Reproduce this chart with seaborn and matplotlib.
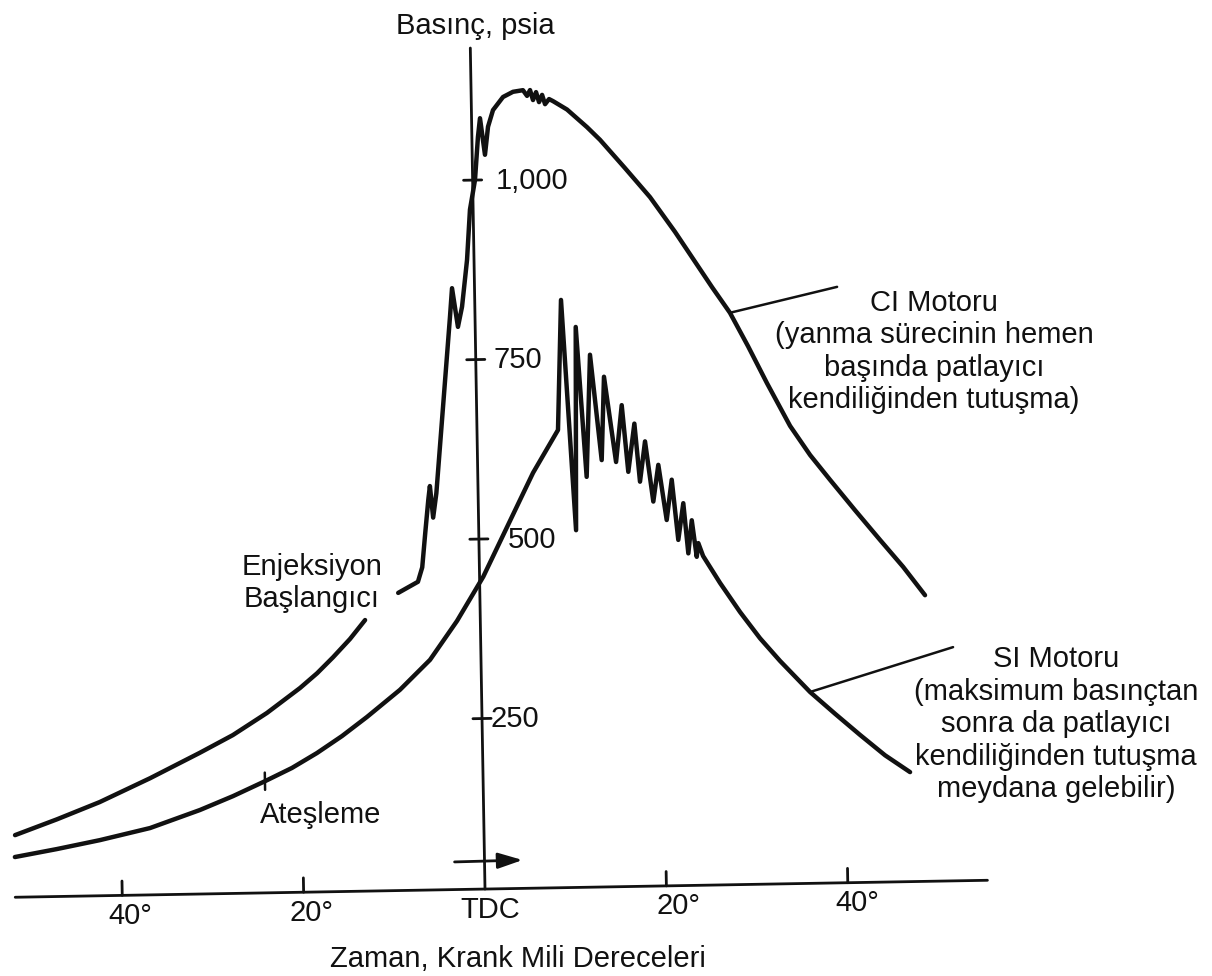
import numpy as np
import pandas as pd
import seaborn as sns
import matplotlib
matplotlib.use("Agg")
import matplotlib.pyplot as plt
from matplotlib.transforms import Affine2D

# ---- data: crank angle (deg, negative = before TDC) and cylinder pressure (psia)
ci_compression_deg = [-51.7, -47.05, -42.3, -36.7, -31.2, -27.5, -23.7, -20.0, -18.1, -16.3,
                      -14.4, -12.7]
ci_compression_psia = [99, 120, 143, 175, 209, 233, 263, 297, 317, 339, 364, 390]

ci_combustion_deg = [-9.0, -6.8, -6.3, -5.9, -5.5, -5.3, -5.0, -4.6, -2.76, -2.48, -1.9, -1.41,
                     -0.77, -0.35, 0.26, 0.67, 0.93, 1.41, 1.80, 2.38, 3.51, 4.62, 5.72, 6.16,
                     6.50, 6.81, 7.16, 7.47, 7.82, 8.13, 8.58, 9.02, 10.54, 12.71, 14.12, 16.82,
                     19.52, 22.21, 24.15, 26.19, 28.11, 30.04, 32.06, 34.52, 36.67, 38.82,
                     41.52, 44.22, 46.71, 49.07]
ci_combustion_psia = [427, 442, 462, 510, 556, 575, 531, 565, 810, 850, 796, 824,
                      889, 959, 1000, 1060, 1086, 1035, 1074, 1097, 1115, 1122, 1124, 1116,
                      1124, 1110, 1121, 1107, 1117, 1104, 1111, 1108, 1096, 1071, 1053, 1013,
                      972, 923, 885, 845, 809, 762, 710, 650, 609, 574,
                      531, 489, 451, 411]

si_deg = [-51.76, -47.11, -42.35, -36.8, -31.27, -27.6, -24.05, -21.05, -18.26, -15.47, -12.68,
          -8.99, -5.62, -2.57, 0.41, 4.61, 6.10, 8.93, 9.51, 10.73, 11.08, 12.0, 12.6, 13.69,
          14.1, 15.27, 16.0, 16.6, 17.36, 17.87, 18.5, 19.3, 19.92, 20.74, 21.37, 21.98, 22.6,
          23.06, 23.5, 23.98, 24.18, 24.68, 26.5, 28.65, 30.8, 32.96, 36.21, 38.93, 41.64,
          44.36, 47.08]
si_psia = [68.5, 78.6, 90, 105.6, 129.5, 148, 168, 185.8, 206, 229, 255,
           292, 333, 386.5, 447.5, 553.5, 591, 650, 831, 510, 793, 584, 754, 607,
           723, 604, 683, 590, 657, 576, 632, 548, 599, 522, 578, 494, 545,
           475, 521, 470, 489, 471, 433, 392, 355, 323, 279, 248, 218,
           189, 165]

ignition_deg = -24.05
ignition_psia = 168
ci_leader_deg, ci_leader_psia = 28.11, 809
si_leader_deg, si_leader_psia = 36.21, 279

x_ticks = [-40, -20, 0, 20, 40]
x_tick_labels = ["40°", "20°", "TDC", "20°", "40°"]
y_ticks = [250, 500, 750, 1000]
y_tick_labels = ["250", "500", "750", "1,000"]

# ---- figure
W, H = 1212, 976
sns.set_theme(style="white")
plt.rcParams["font.family"] = ["Liberation Sans", "DejaVu Sans"]

fig = plt.figure(figsize=(W / 100, H / 100), dpi=100)
fig.patch.set_facecolor("white")
ax = fig.add_axes([0, 0, 1, 1])
ax.axis("off")
ax.set_xlim(-53.47, 80.15)
ax.set_ylim(-108.6, 1250.7)

axis_p = 12.5  # pressure level where the crank-angle axis is drawn
ink = "#111111"

# the drawing sits on a sheet turned slightly anticlockwise
px0, py0 = ax.transData.transform((0, axis_p))
tilt = ax.transData + Affine2D().rotate_deg_around(px0, py0, 1.0)

curve_lw = 3.2
sns.lineplot(x=ci_compression_deg, y=ci_compression_psia, ax=ax, color=ink,
             lw=curve_lw, sort=False, estimator=None, legend=False)
sns.lineplot(x=ci_combustion_deg, y=ci_combustion_psia, ax=ax, color=ink,
             lw=curve_lw, sort=False, estimator=None, legend=False)
sns.lineplot(x=si_deg, y=si_psia, ax=ax, color=ink,
             lw=curve_lw, sort=False, estimator=None, legend=False)
for ln in ax.lines:
    ln.set_transform(tilt)
    ln.set_solid_joinstyle("round")
    ln.set_solid_capstyle("round")

# axes drawn by hand, crossing at TDC
ax.plot([-51.8, 55.4], [axis_p, axis_p], color=ink, lw=2.0, transform=tilt)
ax.plot([0, 0], [axis_p, 1184], color=ink, lw=2.0, transform=tilt)
for xt in x_ticks:
    if xt != 0:
        ax.plot([xt, xt], [axis_p, axis_p + 20], color=ink, lw=2.0, transform=tilt)
for yt in y_ticks:
    ax.plot([-1.0, 1.0], [yt, yt], color=ink, lw=2.0, transform=tilt)

# ignition mark on the SI curve
ax.plot([ignition_deg, ignition_deg], [ignition_psia - 12, ignition_psia + 12],
        color=ink, lw=1.8, transform=tilt)

# leaders to the curve descriptions
ax.plot([ci_leader_deg, 39.97], [ci_leader_psia, 842.5], color=ink, lw=1.8, transform=tilt)
ax.plot([si_leader_deg, 52.06], [si_leader_psia, 338], color=ink, lw=1.8, transform=tilt)

# direction of rotation arrow
ax.annotate("", xy=(4.2, 52), xytext=(-3.3, 51), xycoords=tilt, textcoords=tilt,
            arrowprops=dict(arrowstyle="-|>,head_length=1.0,head_width=0.32",
                            mutation_scale=15, lw=2.0, color=ink, shrinkA=0, shrinkB=0))

# tick labels
tick_fs = 21
x_label_shift = [0.8, 0.8, 0.5, 1.3, 1.0]
for xt, lab, sh in zip(x_ticks, x_tick_labels, x_label_shift):
    ax.text(xt + sh, -27.5, lab, transform=tilt, ha="center", va="baseline",
            fontsize=tick_fs, color=ink)
y_label_dx = [0.9, 3.2, 1.9, 2.5]
for yt, lab, dx in zip(y_ticks, y_tick_labels, y_label_dx):
    ax.text(dx, yt - 12.5, lab, transform=tilt, ha="left", va="baseline",
            fontsize=tick_fs, color=ink)

# titles and annotations, placed in figure pixels (y = baseline of the last line)
def put(x, y, s, **kw):
    fig.text(x / W, 1 - y / H, s, ha="center", va="baseline", fontsize=21,
             color=ink, multialignment="center", **kw)

put(475, 34, "Basınç, psia")
put(518, 967, "Zaman, Krank Mili Dereceleri")
put(321, 823, "Ateşleme")
put(312, 607, "Enjeksiyon\nBaşlangıcı")
put(934, 408, "CI Motoru\n(yanma sürecinin hemen\nbaşında patlayıcı\nkendiliğinden tutuşma)")
put(1056, 797, "SI Motoru\n(maksimum basınçtan\nsonra da patlayıcı\nkendiliğinden tutuşma\nmeydana gelebilir)")

fig.savefig("out.png", dpi=100, facecolor="white")
